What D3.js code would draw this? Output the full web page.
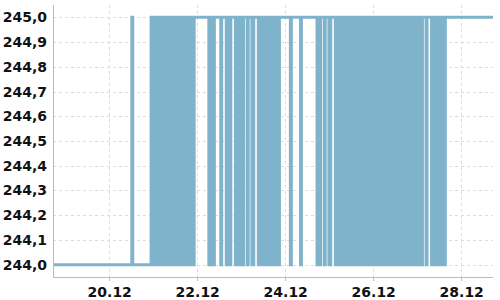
<!DOCTYPE html>
<html>
<head>
<meta charset="utf-8">
<script src="https://cdn.jsdelivr.net/npm/d3@7"></script>
<style>
  html, body { margin: 0; padding: 0; background: #fff; }
  svg { display: block; }
  .tick text { font-family: "DejaVu Sans", sans-serif; font-weight: bold; font-size: 14px; fill: #111; }
</style>
</head>
<body>
<svg id="chart" width="500" height="300"></svg>
<script>
// ---- data ----
// readings every 30 minutes starting 18.12 17:20; code 0 -> levels[0], 1 -> levels[1]
const levels = [244.0, 245.0];
const startTime = [2023, 11, 18, 17, 20];
const intervalMinutes = 30;
const readingCodes = [
  "0000000000 0000000000 0000000000 0000000000 0000000000 0000000000 0000000000 0000000000 000000",
  "1",
  "0000000000 0000000000",
  "1010101010 1010101010 1010101010 1010101010 10101",
  "00",
  "1111111111 111111",
  "010100",
  "1111111",
  "0",
  "11111",
  "01010",
  "11111",
  "010101010",
  "1111",
  "0",
  "1111",
  "00",
  "11111",
  "0101010101 0101010101 010",
  "1111111111 11",
  "0",
  "1111111111",
  "0",
  "1111111111 1111111",
  "0100",
  "1111",
  "0",
  "1111",
  "00",
  "11111",
  "0101010101 0101010101 0101010101 0101010101 0101010101 0101010101 0101010101 0101010101 0101010101 01010",
  "1111",
  "0",
  "11111",
  "0101010101 01010",
  "1111111111 1111111111 1111111111 1111111111 1111111111 111"
];
const yTicks = [244.0, 244.1, 244.2, 244.3, 244.4, 244.5, 244.6, 244.7, 244.8, 244.9, 245.0];
const xTickDays = [20, 22, 24, 26, 28];
const xDomainDays = [[18, 17, 20], [28, 17, 20]];

// ---- build series ----
const codes = readingCodes.join("").replace(/\s/g, "").split("");
const t0 = new Date(startTime[0], startTime[1], startTime[2], startTime[3], startTime[4]);
const series = codes.map((c, i) => ({
  t: new Date(t0.getTime() + i * intervalMinutes * 60000),
  v: levels[+c]
}));

// ---- layout ----
const W = 500, H = 300;
const margin = { top: 5, right: 7, bottom: 23, left: 53 };
const iw = W - margin.left - margin.right;
const ih = H - margin.top - margin.bottom;

const svg = d3.select("#chart");
const g = svg.append("g").attr("transform", `translate(${margin.left},${margin.top})`);

const x = d3.scaleTime()
  .domain(xDomainDays.map(d => new Date(2023, 11, d[0], d[1], d[2])))
  .range([0, iw]);
const y = d3.scaleLinear().domain([243.95, 245.05]).range([ih, 0]);

const xTicks = xTickDays.map(d => new Date(2023, 11, d));

// grid
g.append("g").selectAll("line").data(yTicks).join("line")
  .attr("x1", 0).attr("x2", iw)
  .attr("y1", d => Math.round(y(d)) + 0.5).attr("y2", d => Math.round(y(d)) + 0.5)
  .attr("stroke", "#dcdcdc").attr("stroke-dasharray", "3,3");
g.append("g").selectAll("line").data(xTicks).join("line")
  .attr("y1", 0).attr("y2", ih)
  .attr("x1", d => Math.round(x(d)) + 0.5).attr("x2", d => Math.round(x(d)) + 0.5)
  .attr("stroke", "#dcdcdc").attr("stroke-dasharray", "3,3");

// line
const line = d3.line().x(d => x(d.t)).y(d => y(d.v)).curve(d3.curveStepAfter);
g.append("path").datum(series)
  .attr("d", line)
  .attr("fill", "none")
  .attr("stroke", "#7fb2cb")
  .attr("stroke-width", 3);

// axes
const fmtY = v => d3.format(".1f")(v).replace(".", ",");
const yAxis = g.append("g")
  .call(d3.axisLeft(y).tickValues(yTicks).tickFormat(fmtY).tickSize(0).tickPadding(6));
yAxis.select(".domain").attr("stroke", "#bbb").attr("d", `M0.5,0V${ih}`);

const xAxis = g.append("g").attr("transform", `translate(0,${ih})`)
  .call(d3.axisBottom(x).tickValues(xTicks).tickFormat(d3.timeFormat("%d.%m")).tickSize(4).tickPadding(6));
xAxis.select(".domain").attr("stroke", "#bbb").attr("d", `M0,0.5H${iw}`);
xAxis.selectAll(".tick line").attr("stroke", "#bbb");
</script>
</body>
</html>
